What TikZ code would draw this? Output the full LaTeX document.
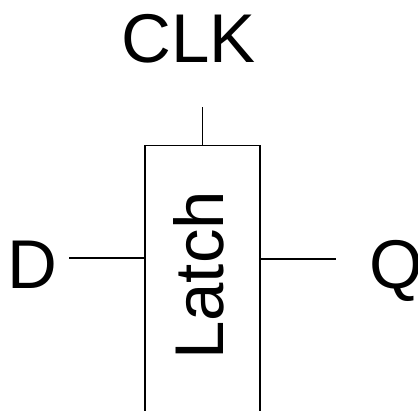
\documentclass[tikz,border=0pt]{standalone}
\usepackage{fontspec}
\setmainfont{Liberation Sans}
\usepackage{tikz}
\usetikzlibrary{positioning}

\begin{document}
\begin{tikzpicture}[x=1pt, y=-1pt,
    every node/.style={font=\fontsize{69}{78}\selectfont, inner sep=0pt},
    pin/.style={line width=1.4pt},
    block/.style={rectangle, draw, line width=1.4pt, minimum width=115pt,
      minimum height=330pt}]
    \useasboundingbox (0,0) rectangle (418,410);
    \clip (0,0) rectangle (418,410);
    \node[block, anchor=north] (box) at (202.5,145) {};
    \node[rotate=90, anchor=base west] (latch) at (223,360) {Latch};
    \node[anchor=base west] (clk) at (121.6,62) {CLK};
    \node[anchor=base west] (d) at (7.5,288) {D};
    \node[anchor=base west] (q) at (369,288) {Q};
    \coordinate (clkpin) at (202.5,107);
    \coordinate (dpin) at (69,258);
    \coordinate (qpin) at (336,259);
    \draw[pin] (clkpin) -- (box.north);
    \draw[pin] (dpin) -- (dpin -| box.west);
    \draw[pin] (qpin -| box.east) -- (qpin);
  \end{tikzpicture}
\end{document}
